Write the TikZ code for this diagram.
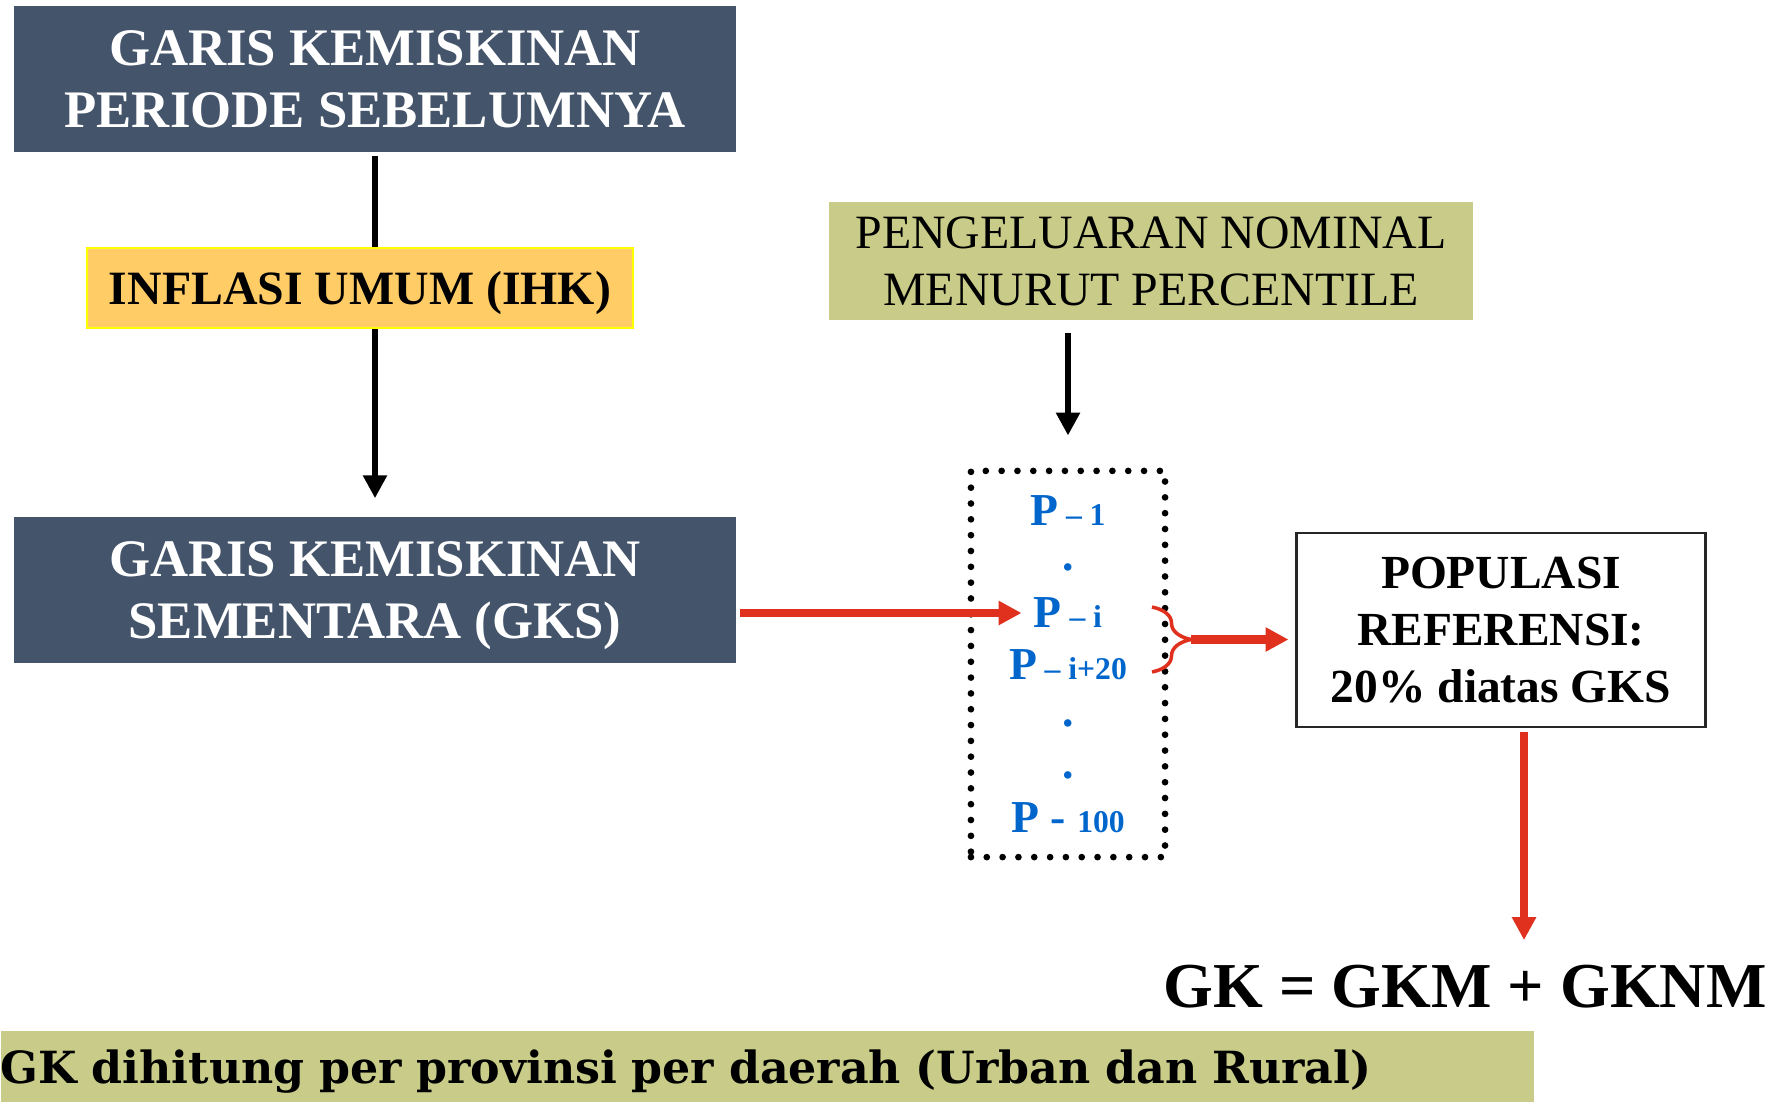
\documentclass[tikz,border=0pt]{standalone}
\usepackage{fontspec}
\setmainfont{Liberation Serif}
\newfontfamily\bandfont{DejaVu Serif}
\usetikzlibrary{arrows.meta,decorations.pathreplacing}

\definecolor{slate}{HTML}{44546A}
\definecolor{ihkfill}{HTML}{FFCC66}
\definecolor{ihkline}{HTML}{FFFF00}
\definecolor{oliveband}{HTML}{C8CC88}
\definecolor{pblue}{HTML}{0066CC}
\definecolor{arrred}{HTML}{E0301E}

\newcommand{\subsz}{\fontsize{9}{10}\selectfont}

\tikzset{
  darkbox/.style={fill=slate, text=white, font=\fontsize{15}{17.7}\selectfont\bfseries,
    align=center, minimum width=7.22cm, minimum height=1.46cm, inner sep=0pt, text depth=0pt},
  ihkbox/.style={fill=ihkfill, draw=ihkline, line width=0.6pt, font=\fontsize{13.6}{16}\selectfont\bfseries,
    minimum width=5.45cm, minimum height=0.8cm, inner sep=0pt, text depth=0pt},
  olivebox/.style={fill=oliveband, font=\fontsize{13.6}{16.2}\selectfont,
    align=center, minimum width=6.44cm, minimum height=1.18cm, inner sep=0pt},
  dotbox/.style={draw, line width=1.9pt, dash pattern=on 0pt off 4.5pt, line cap=round,
    minimum width=1.94cm, minimum height=3.86cm, inner sep=0pt},
  plab/.style={text=pblue, font=\fontsize{13}{14}\selectfont\bfseries},
  pdot/.style={text=pblue, font=\fontsize{13}{14}\selectfont\bfseries, inner sep=0pt},
  popbox/.style={draw=black!85, line width=0.8pt, font=\fontsize{13.5}{16.2}\selectfont\bfseries,
    align=center, minimum width=4.08cm, minimum height=1.94cm, inner sep=0pt},
  blackline/.style={line width=1.8pt},
  blackarrow/.style={line width=1.8pt, -{Triangle[length=6.5pt,width=6.5pt]}},
  redarrow/.style={arrred, line width=2.3pt, -{Triangle[length=6.5pt,width=6.5pt]}}
}

\begin{document}
\begin{tikzpicture}[x=0.01cm, y=-0.01cm]
    \useasboundingbox (0,0) rectangle (1779,1103);

    \node[darkbox] (prev) at (375,79) {GARIS KEMISKINAN\\PERIODE SEBELUMNYA};
    \node[ihkbox] (ihk) at (360,288) {INFLASI UMUM (IHK)};
    \node[darkbox] (gks) at (375,590) {GARIS KEMISKINAN\\SEMENTARA (GKS)};
    \node[olivebox] (nominal) at (1151,261) {PENGELUARAN NOMINAL\\MENURUT PERCENTILE};

    \node[dotbox] (pct) at (1068,664) {};
    \node[plab] (p1) at (1068,511) {P\,{\subsz – 1}};
    \node[pdot] (d1) at (1068,567) {.};
    \node[plab] (pi) at (1068,613) {P\,{\subsz – i}};
    \node[plab] (pi20) at (1068,665) {P\,{\subsz – i+20}};
    \node[pdot] (d2) at (1068,723) {.};
    \node[pdot] (d3) at (1068,775) {.};
    \node[plab] (p100) at (1068,818) {P - {\subsz 100}};

    \node[popbox] (pop) at (1501,630) {POPULASI\\REFERENSI:\\20\% diatas GKS};
    \node[font=\fontsize{18.2}{20}\selectfont\bfseries] (gk) at (1465,987) {GK = GKM + GKNM};
    \node[fill=oliveband, anchor=south west, text width=15.32cm, minimum height=0.71cm, inner sep=0pt,
      text depth=0pt, align=left, font=\bandfont\bfseries\fontsize{12.6}{15}\selectfont] (band) at (0,1103)
      {GK dihitung per provinsi per daerah (Urban dan Rural)};

    \draw[blackline, shorten <=0.03cm] (prev.south) -- (prev.south |- ihk.north);
    \draw[blackarrow, shorten >=0.18cm] (prev.south |- ihk.south) -- (prev.south |- gks.north);
    \draw[blackarrow, shorten <=0.12cm, shorten >=0.32cm] (nominal.south -| pct.north) -- (pct.north);
    \draw[redarrow, shorten <=0.03cm] (gks.east |- pi.west) -- (pi.west);

    \coordinate (bracetop) at (1152,607);
    \coordinate (bracebot) at (1152,672);
    \coordinate (bracetip) at (1191,639.5);
    \draw[arrred, line width=1pt, decorate, decoration={brace, amplitude=0.39cm}] (bracetop) -- (bracebot);
    \draw[redarrow, shorten >=0.07cm] (bracetip) -- (pop.west |- bracetip);
    \draw[redarrow, shorten <=0.04cm, shorten >=0.13cm] ([xshift=0.23cm]pop.south) -- ([xshift=0.23cm]pop.south |- gk.north);
\end{tikzpicture}
\end{document}
